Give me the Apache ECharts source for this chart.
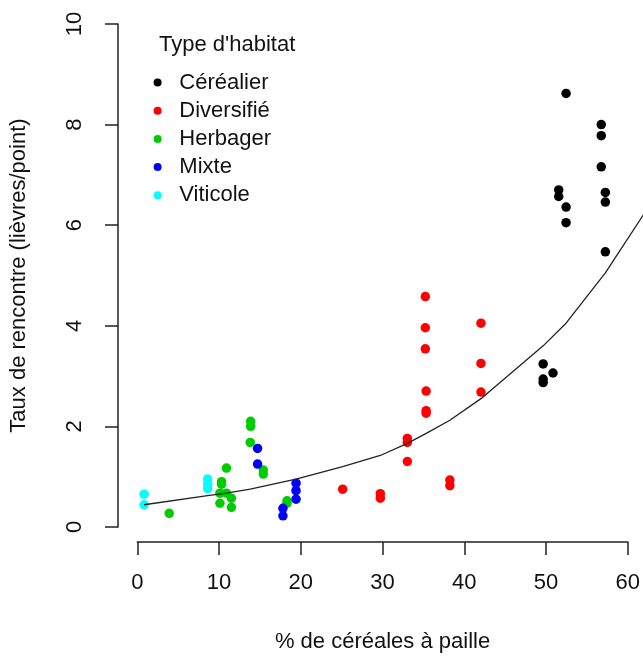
<!DOCTYPE html>
<html><head><meta charset="utf-8">
<script src="https://cdn.jsdelivr.net/npm/echarts@6/dist/echarts.min.js"></script>
<style>html,body{margin:0;padding:0;background:#fff}#c{width:643px;height:658px}</style>
</head><body><div id="c"></div>
<script>
// ---- data ----
const xTicks = [0, 10, 20, 30, 40, 50, 60];
const yTicks = [0, 2, 4, 6, 8, 10];
const categories = ['Céréalier', 'Diversifié', 'Herbager', 'Mixte', 'Viticole'];
const colors = ['#000000', '#ff0000', '#00cd00', '#0000ff', '#00ffff'];

const cerealier = [[52.4,8.62],[56.7,8.0],[56.7,7.78],[56.7,7.16],[51.5,6.70],[51.5,6.57],[52.4,6.36],[52.4,6.05],[57.2,6.65],[57.2,6.46],[57.2,5.47],[49.6,3.24],[50.8,3.06],[49.6,2.94],[49.6,2.87]];
const diversifie = [[35.2,4.58],[35.2,3.96],[35.2,3.54],[35.3,2.70],[35.3,2.31],[35.3,2.26],[42.0,4.05],[42.0,3.25],[42.0,2.68],[33.0,1.76],[33.0,1.68],[33.0,1.30],[25.1,0.75],[29.7,0.66],[29.7,0.57],[38.2,0.93],[38.2,0.82]];
const herbager = [[3.9,0.27],[10.9,1.17],[10.3,0.90],[10.3,0.85],[10.1,0.67],[10.9,0.67],[11.5,0.57],[10.1,0.47],[11.5,0.39],[13.85,2.10],[13.85,2.00],[13.8,1.68],[15.4,1.13],[15.4,1.05],[18.3,0.52],[18.3,0.47]];
const mixte = [[14.7,1.56],[14.7,1.25],[19.4,0.87],[19.4,0.72],[19.4,0.55],[17.8,0.37],[17.8,0.22]];
const viticole = [[0.83,0.65],[0.83,0.44],[8.6,0.95],[8.6,0.85],[8.6,0.76]];
const seriesData = [cerealier, diversifie, herbager, mixte, viticole];

const fitCurve = [[0.83,0.44],[8.6,0.62],[10.9,0.67],[13.8,0.75],[19.4,0.95],[25.1,1.20],[29.7,1.42],[33.0,1.66],[35.2,1.85],[38.2,2.12],[42.0,2.55],[49.6,3.60],[52.4,4.05],[57.2,5.05],[61.9,6.22]];

// ---- chart ----
const FONT = "'Liberation Sans', Arial, sans-serif";
const TXT = '#111111';
const AX = '#222222';
const chart = echarts.init(document.getElementById('c'), null, {renderer: 'canvas'});

const series = categories.map((name, i) => ({
  name: name,
  type: 'scatter',
  xAxisIndex: 0, yAxisIndex: 0,
  data: seriesData[i],
  symbol: 'circle',
  symbolSize: 9.5,
  itemStyle: {color: colors[i], opacity: 1},
  emphasis: {disabled: true},
  z: 3
}));
series.push({
  name: 'fit',
  type: 'line',
  xAxisIndex: 0, yAxisIndex: 0,
  data: fitCurve,
  showSymbol: false,
  symbol: 'none',
  lineStyle: {color: AX, width: 1.3},
  emphasis: {disabled: true},
  z: 4
});

chart.setOption({
  animation: false,
  backgroundColor: '#ffffff',
  textStyle: {fontFamily: FONT},
  title: {
    text: "Type d'habitat",
    left: 159, top: 34,
    padding: 0,
    textStyle: {fontFamily: FONT, fontSize: 22, fontWeight: 'normal', color: TXT}
  },
  legend: {
    data: categories,
    orient: 'vertical',
    left: 153.6, top: 71.5,
    padding: 0,
    itemGap: 6.2,
    itemWidth: 33.4, itemHeight: 8,
    icon: 'circle',
    textStyle: {fontFamily: FONT, fontSize: 22, color: TXT, padding: [0,0,0,0]},
    selectedMode: false
  },
  grid: [
    {left: 115.5, right: 0, top: 3.9, bottom: 111, containLabel: false},
    {left: 137.3, right: 14.7, top: 3.9, bottom: 111, containLabel: false},
    {left: 115.5, right: 0, top: 24, bottom: 131, containLabel: false}
  ],
  xAxis: [
    {gridIndex: 0, type: 'value', min: -2.66, max: 61.8, show: false},
    {gridIndex: 1, type: 'value', min: xTicks[0], max: xTicks[xTicks.length-1], interval: xTicks[1]-xTicks[0],
     position: 'bottom',
     name: '% de céréales à paille', nameLocation: 'middle', nameGap: 89,
     nameTextStyle: {fontFamily: FONT, fontSize: 22, color: TXT},
     axisLine: {show: true, lineStyle: {color: AX, width: 1.5}},
     axisTick: {show: true, inside: false, length: 13, lineStyle: {color: AX, width: 1.5}},
     axisLabel: {show: true, margin: 30, fontFamily: FONT, fontSize: 22, color: TXT, showMinLabel: true, showMaxLabel: true},
     splitLine: {show: false}},
    {gridIndex: 2, type: 'value', min: 0, max: 1, show: false}
  ],
  yAxis: [
    {gridIndex: 0, type: 'value', min: -0.4, max: 10.4, show: false},
    {gridIndex: 1, type: 'value', min: 0, max: 1, show: false},
    {gridIndex: 2, type: 'value', min: yTicks[0], max: yTicks[yTicks.length-1], interval: yTicks[1]-yTicks[0],
     position: 'left',
     name: 'Taux de rencontre (lièvres/point)', nameLocation: 'middle', nameGap: 88,
     nameTextStyle: {fontFamily: FONT, fontSize: 22, color: TXT},
     axisLine: {show: true, lineStyle: {color: AX, width: 1.5}},
     axisTick: {show: true, inside: false, length: 13, lineStyle: {color: AX, width: 1.5}},
     axisLabel: {show: true, rotate: 90, margin: 32, fontFamily: FONT, fontSize: 22, color: TXT, showMinLabel: true, showMaxLabel: true},
     splitLine: {show: false}}
  ],
  series: series
});
</script>
</body></html>
